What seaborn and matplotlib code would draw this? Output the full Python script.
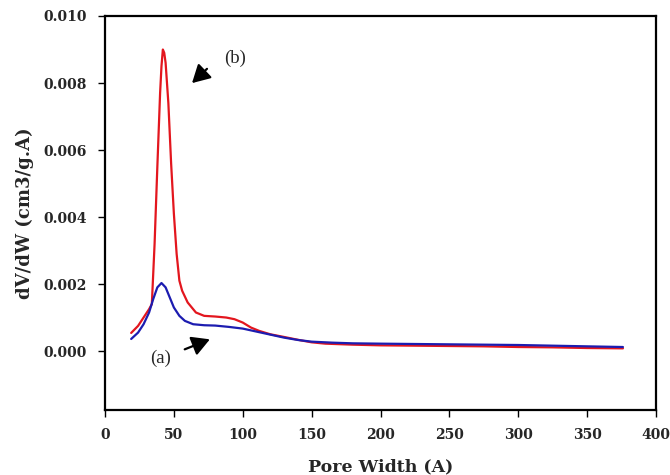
import matplotlib
matplotlib.use("Agg")
import matplotlib.pyplot as plt
import seaborn as sns
import pandas as pd

# Pore width (A) and dV/dW (cm3/g.A) for sample (b) - red
width_b = [19, 24, 28, 32, 34, 36, 38, 40, 41, 42, 43, 44, 46, 48, 50, 52, 54, 56, 60, 66, 72, 80,
           88, 94, 100, 106, 112, 120, 130, 142, 150, 160, 180, 200, 225, 250, 275, 300,
           325, 350, 376]
dvdw_b = [0.00054, 0.00075, 0.00100, 0.00125, 0.00140, 0.0032, 0.0055, 0.0077, 0.0085, 0.0090,
          0.0089, 0.0086, 0.0074, 0.0056, 0.0041, 0.0029, 0.0021, 0.0018, 0.00145, 0.00115,
          0.00105, 0.00103, 0.00100, 0.00095, 0.00085, 0.00070, 0.00060, 0.00050, 0.00042,
          0.00032, 0.00026, 0.00022, 0.00019, 0.00017, 0.00016, 0.00015, 0.00014, 0.00012,
          0.00011, 0.00009, 0.00008]

# Sample (a) - blue
width_a = [19, 24, 28, 32, 35, 38, 41, 44, 47, 50, 54, 58, 64, 72, 80, 90, 100, 110, 120, 130,
           140, 150, 165, 180, 200, 225, 250, 275, 300, 325, 350, 376]
dvdw_a = [0.00036, 0.00055, 0.00080, 0.00115, 0.00155, 0.0019, 0.00203, 0.0019, 0.0016, 0.0013,
          0.00105, 0.0009, 0.00080, 0.00077, 0.00076, 0.00072, 0.00067, 0.00058, 0.00049,
          0.00040, 0.00033, 0.00028, 0.00025, 0.00023, 0.00022, 0.00021, 0.00020, 0.00019,
          0.00018, 0.00016, 0.00014, 0.00012]

x_ticks = [0, 50, 100, 150, 200, 250, 300, 350, 400]
y_ticks = [0.000, 0.002, 0.004, 0.006, 0.008, 0.010]
y_tick_labels = ["0.000", "0.002", "0.004", "0.006", "0.008", "0.010"]

sns.set_theme(style="white")
plt.rcParams['font.family'] = ['DejaVu Serif']

df_a = pd.DataFrame({"w": width_a, "v": dvdw_a})
df_b = pd.DataFrame({"w": width_b, "v": dvdw_b})

fig = plt.figure(figsize=(6.7, 4.75), dpi=100)
ax = fig.add_axes([105/670, 1-410/475, (656-105)/670, (410-16)/475])

sns.lineplot(data=df_b, x="w", y="v", color="#e3161e", linewidth=1.6, ax=ax)
sns.lineplot(data=df_a, x="w", y="v", color="#1c1cb0", linewidth=1.6, ax=ax)

ax.set_xlim(0, 400)
ax.set_ylim(-0.00176, 0.010)
ax.set_xticks(x_ticks)
ax.set_xticklabels([str(t) for t in x_ticks], fontweight="bold", fontsize=10)
ax.set_yticks(y_ticks)
ax.set_yticklabels(y_tick_labels, fontweight="bold", fontsize=10)
ax.tick_params(axis="both", direction="out", length=5, width=1, color="black",
               bottom=True, left=True, pad=8)

for s in ax.spines.values():
    s.set_color("black")
    s.set_linewidth(1.6)

ax.set_xlabel("Pore Width (A)", fontweight="bold", fontsize=12.5, labelpad=12)
ax.set_ylabel("dV/dW (cm3/g.A)", fontweight="bold", fontsize=13, labelpad=7)

ax.annotate("", xy=(61.7, 0.00794), xytext=(75.5, 0.00848),
            arrowprops=dict(arrowstyle="-|>,head_length=0.9,head_width=0.5", color="black", lw=1.6))
ax.text(94.3, 0.00875, "(b)", fontsize=13.5, family="Liberation Serif", ha="center", va="center")
ax.annotate("", xy=(78, 0.00038), xytext=(56, 0.00002),
            arrowprops=dict(arrowstyle="-|>,head_length=0.9,head_width=0.5", color="black", lw=1.6))
ax.text(40.4, -0.00022, "(a)", fontsize=13.5, family="Liberation Serif", ha="center", va="center")

fig.savefig("out.png", dpi=100)
